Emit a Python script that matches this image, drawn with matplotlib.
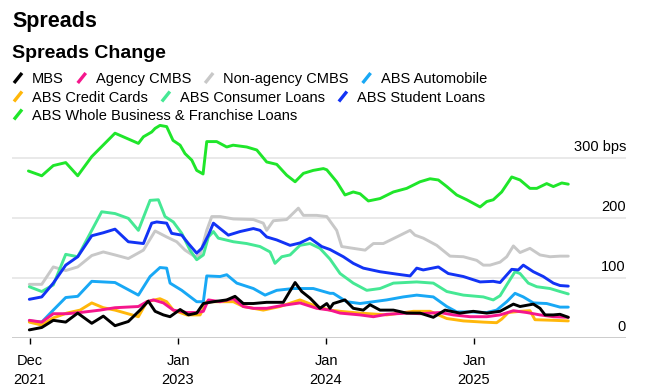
import matplotlib
matplotlib.use("Agg")
import matplotlib.pyplot as plt
from matplotlib.lines import Line2D
import matplotlib.transforms as mtransforms

plt.rcParams['font.family'] = ['Liberation Sans', 'DejaVu Sans']

# time is in decimal years, values in bps
mbs_t = [2021.995, 2022.079, 2022.157, 2022.241, 2022.322, 2022.417, 2022.495, 2022.574, 2022.664,
         2022.743, 2022.799, 2022.845, 2022.901, 2022.946, 2023.014, 2023.070, 2023.126, 2023.171,
         2023.239, 2023.329, 2023.385, 2023.441, 2023.509, 2023.599, 2023.711, 2023.791, 2023.836,
         2023.892, 2023.959, 2024.005, 2024.027, 2024.049, 2024.128, 2024.184, 2024.252, 2024.297,
         2024.365, 2024.455, 2024.545, 2024.635, 2024.725, 2024.804, 2024.905, 2024.995, 2025.086,
         2025.176, 2025.266, 2025.311, 2025.401, 2025.446, 2025.480, 2025.536, 2025.581, 2025.637]
mbs_v = [14, 18, 30, 27, 42, 25, 37, 21, 28,
         47, 62, 45, 39, 36, 48, 39, 42, 58,
         61, 64, 70, 58, 58, 60, 60, 93, 78,
         67, 50, 58, 50, 58, 64, 50, 47, 56,
         47, 47, 42, 42, 35, 47, 42, 45, 42,
         45, 57, 53, 57, 50, 39, 39, 40, 35]

agency_t = [2021.995, 2022.079, 2022.157, 2022.248, 2022.338, 2022.473, 2022.574, 2022.732, 2022.789,
            2022.833, 2022.901, 2022.968, 2023.059, 2023.126, 2023.171, 2023.205, 2023.284, 2023.374,
            2023.441, 2023.509, 2023.599, 2023.711, 2023.824, 2023.937, 2024.027, 2024.095, 2024.230,
            2024.320, 2024.410, 2024.545, 2024.635, 2024.770, 2024.860, 2024.973, 2025.086, 2025.176,
            2025.266, 2025.356, 2025.446, 2025.536, 2025.637]
agency_v = [30, 27, 41, 41, 43, 47, 51, 53, 61,
            64, 59, 47, 43, 43, 45, 64, 61, 66,
            53, 50, 50, 55, 59, 50, 47, 42, 39,
            36, 40, 42, 41, 43, 39, 36, 36, 39,
            46, 43, 39, 36, 35]

nonagency_t = [2021.995, 2022.079, 2022.157, 2022.241, 2022.322, 2022.417, 2022.495, 2022.574, 2022.664,
               2022.766, 2022.845, 2022.923, 2022.991, 2023.047, 2023.115, 2023.149, 2023.194, 2023.228,
               2023.284, 2023.374, 2023.509, 2023.576, 2023.599, 2023.644, 2023.734, 2023.813, 2023.847,
               2023.937, 2024.005, 2024.072, 2024.106, 2024.184, 2024.264, 2024.320, 2024.387, 2024.478,
               2024.568, 2024.601, 2024.657, 2024.748, 2024.838, 2024.928, 2025.018, 2025.063, 2025.108,
               2025.176, 2025.221, 2025.266, 2025.311, 2025.378, 2025.446, 2025.514, 2025.581, 2025.637]
nonagency_v = [90, 90, 119, 113, 119, 138, 144, 139, 133,
               147, 179, 169, 161, 147, 136, 139, 180, 203,
               203, 199, 198, 192, 180, 196, 198, 217, 205,
               205, 203, 180, 153, 150, 147, 158, 158, 169,
               180, 172, 167, 155, 137, 136, 130, 122, 122,
               127, 136, 154, 143, 150, 139, 136, 137, 137]

auto_t = [2021.995, 2022.079, 2022.157, 2022.241, 2022.322, 2022.417, 2022.574, 2022.732, 2022.811,
          2022.878, 2022.923, 2022.946, 2023.025, 2023.126, 2023.171, 2023.194, 2023.284, 2023.329,
          2023.397, 2023.509, 2023.588, 2023.667, 2023.779, 2023.914, 2024.027, 2024.049, 2024.139,
          2024.230, 2024.320, 2024.410, 2024.522, 2024.613, 2024.725, 2024.816, 2024.883, 2024.973,
          2025.086, 2025.153, 2025.221, 2025.277, 2025.333, 2025.401, 2025.491, 2025.581, 2025.637]
auto_v = [29, 27, 47, 68, 70, 95, 93, 72, 103,
          118, 117, 92, 80, 61, 61, 104, 103, 106,
          92, 83, 72, 80, 83, 83, 75, 75, 61,
          58, 61, 64, 69, 72, 69, 53, 44, 44,
          43, 47, 61, 75, 69, 59, 58, 52, 52]

cards_t = [2021.995, 2022.079, 2022.157, 2022.248, 2022.338, 2022.417, 2022.495, 2022.574, 2022.732,
           2022.789, 2022.878, 2022.923, 2022.968, 2023.059, 2023.149, 2023.194, 2023.374, 2023.441,
           2023.576, 2023.689, 2023.824, 2023.937, 2024.027, 2024.095, 2024.230, 2024.410, 2024.590,
           2024.703, 2024.816, 2024.928, 2025.063, 2025.153, 2025.187, 2025.232, 2025.311, 2025.378,
           2025.412, 2025.536, 2025.637]
cards_v = [27, 22, 34, 42, 47, 59, 51, 47, 36,
           61, 66, 61, 47, 39, 39, 61, 61, 53,
           47, 53, 64, 53, 47, 45, 42, 39, 45,
           45, 33, 29, 27, 26, 32, 43, 45, 46,
           31, 30, 29]

consumer_t = [2021.995, 2022.079, 2022.157, 2022.241, 2022.322, 2022.484, 2022.574, 2022.664, 2022.732,
              2022.811, 2022.867, 2022.912, 2022.968, 2023.025, 2023.081, 2023.126, 2023.171, 2023.205,
              2023.239, 2023.272, 2023.374, 2023.464, 2023.554, 2023.622, 2023.655, 2023.701, 2023.757,
              2023.824, 2023.892, 2023.959, 2024.027, 2024.095, 2024.184, 2024.275, 2024.365, 2024.455,
              2024.613, 2024.725, 2024.816, 2024.928, 2025.063, 2025.130, 2025.176, 2025.221, 2025.277,
              2025.311, 2025.367, 2025.424, 2025.514, 2025.581, 2025.637]
consumer_v = [86, 78, 89, 140, 136, 211, 208, 200, 180,
              230, 231, 203, 194, 175, 147, 131, 139, 169,
              178, 167, 161, 158, 153, 144, 125, 136, 139,
              155, 158, 150, 132, 108, 92, 80, 83, 92,
              94, 92, 78, 72, 69, 64, 71, 89, 111,
              108, 92, 86, 83, 78, 74]

student_t = [2021.995, 2022.079, 2022.157, 2022.241, 2022.322, 2022.417, 2022.495, 2022.574, 2022.664,
             2022.766, 2022.822, 2022.856, 2022.923, 2022.957, 2023.025, 2023.070, 2023.126, 2023.160,
             2023.205, 2023.239, 2023.284, 2023.340, 2023.419, 2023.509, 2023.554, 2023.599, 2023.667,
             2023.757, 2023.824, 2023.892, 2023.971, 2024.027, 2024.117, 2024.184, 2024.252, 2024.365,
             2024.478, 2024.568, 2024.613, 2024.657, 2024.759, 2024.826, 2024.928, 2025.041, 2025.130,
             2025.176, 2025.255, 2025.299, 2025.333, 2025.401, 2025.468, 2025.536, 2025.581, 2025.637]
student_v = [65, 69, 92, 122, 136, 171, 176, 182, 161,
             158, 192, 194, 192, 175, 172, 158, 142, 150,
             172, 192, 183, 172, 178, 183, 180, 169, 164,
             155, 159, 167, 153, 148, 136, 125, 117, 111,
             107, 104, 117, 114, 119, 108, 103, 94, 95,
             93, 115, 114, 122, 111, 103, 92, 88, 87]

wholebiz_t = [2021.989, 2022.079, 2022.157, 2022.241, 2022.322, 2022.417, 2022.574, 2022.732, 2022.766,
              2022.822, 2022.845, 2022.878, 2022.923, 2022.966, 2023.014, 2023.047, 2023.093, 2023.126,
              2023.169, 2023.194, 2023.261, 2023.329, 2023.372, 2023.464, 2023.532, 2023.599, 2023.667,
              2023.734, 2023.791, 2023.847, 2023.914, 2023.982, 2024.005, 2024.072, 2024.128, 2024.184,
              2024.230, 2024.286, 2024.365, 2024.455, 2024.545, 2024.635, 2024.703, 2024.759, 2024.816,
              2024.883, 2024.951, 2025.041, 2025.086, 2025.130, 2025.187, 2025.255, 2025.311, 2025.378,
              2025.424, 2025.491, 2025.536, 2025.593, 2025.637]
wholebiz_v = [279, 271, 288, 293, 271, 303, 342, 325, 336,
              344, 350, 355, 353, 330, 322, 308, 297, 280,
              274, 328, 328, 319, 322, 319, 314, 294, 290,
              272, 261, 275, 280, 283, 281, 261, 239, 244,
              241, 229, 233, 244, 250, 261, 266, 264, 253,
              239, 231, 219, 228, 231, 244, 269, 264, 250,
              250, 258, 253, 259, 257]

names = ["MBS", "Agency CMBS", "Non-agency CMBS", "ABS Automobile", "ABS Credit Cards",
         "ABS Consumer Loans", "ABS Student Loans", "ABS Whole Business & Franchise Loans"]
colors = ["#000000", "#f5168c", "#c8c8c8", "#18a8f5", "#ffb70a", "#45e894", "#1233f5", "#1fe62a"]
series = [(mbs_t, mbs_v), (agency_t, agency_v), (nonagency_t, nonagency_v), (auto_t, auto_v),
          (cards_t, cards_v), (consumer_t, consumer_v), (student_t, student_v), (wholebiz_t, wholebiz_v)]

tick_pos = [2022.0, 2023.0, 2024.0, 2025.0]
tick_labels = ["Dec\n2021", "Jan\n2023", "Jan\n2024", "Jan\n2025"]
grid_vals = [100, 200, 300]
ylabels = ["0", "100", "200", "300 bps"]

W, H = 645, 390
fig = plt.figure(figsize=(W / 100, H / 100), dpi=100)

def fx(x):
    return x / W

def fy(y):
    return 1 - y / H

# axes spans x 12..626 px, y 120..338 px
ax = fig.add_axes([fx(12), fy(338.3), fx(626) - fx(12), fy(120) - fy(338.3)])
ax.set_xlim(2021.878, 2026.027)
ax.set_ylim(0, 364)
for s in ax.spines.values():
    s.set_visible(False)

for g in grid_vals:
    ax.axhline(g, color="#e3e3e3", lw=1.1, zorder=0)
ax.axhline(0, color="black", lw=1.0, zorder=1)

# draw order: black on top
order = [2, 7, 5, 6, 3, 4, 1, 0]
for i in order:
    t, v = series[i]
    ax.plot(t, v, color=colors[i], lw=2.1, solid_joinstyle="round", solid_capstyle="round",
            zorder=2 + order.index(i), clip_on=False)

ax.set_xticks(tick_pos)
ax.set_xticklabels(tick_labels, fontsize=10.5, linespacing=1.45)
ax.tick_params(axis="x", length=4.5, width=1, color="black", pad=7)
ax.set_yticks([])

# y labels above gridlines at right edge
lab_tr = mtransforms.blended_transform_factory(ax.transAxes, ax.transData) \
    + mtransforms.ScaledTranslation(0, 7 / 100, fig.dpi_scale_trans)
for val, lab in zip([0] + grid_vals, ylabels):
    ax.text(1.0, val, lab, transform=lab_tr, ha="right", va="baseline", fontsize=10.5)

# titles
fig.text(fx(12), fy(27.5), "Spreads", fontsize=15.5, fontweight="bold", va="baseline")
fig.text(fx(12), fy(57.5), "Spreads Change", fontsize=14, fontweight="bold", va="baseline")

# legend, laid out in rows like the original
rows = [[0, 1, 2, 3], [4, 5, 6], [7]]
baselines = [83, 101.5, 119.5]
renderer = fig.canvas.get_renderer()
for row, base in zip(rows, baselines):
    x = 12
    for i in row:
        fig.add_artist(Line2D([fx(x + 2), fx(x + 10)], [fy(base), fy(base - 10)],
                              color=colors[i], lw=2.4, solid_capstyle="butt"))
        txt = fig.text(fx(x + 20), fy(base), names[i], fontsize=10.5, va="baseline")
        bb = txt.get_window_extent(renderer)
        x = bb.x1 + 12

fig.savefig("out.png", dpi=100)
